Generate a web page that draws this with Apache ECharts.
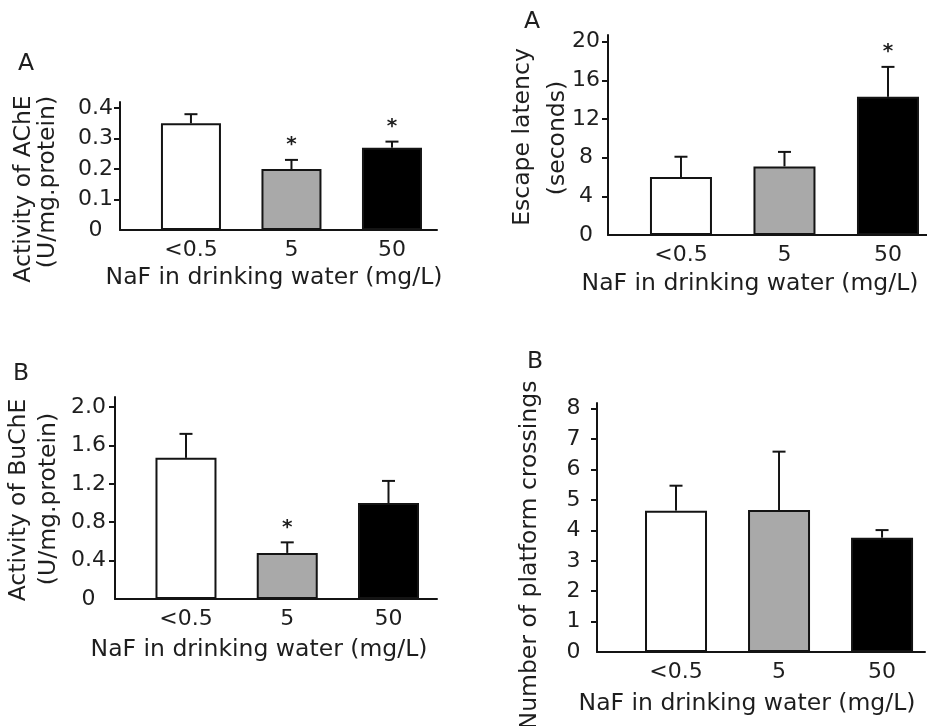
<!DOCTYPE html>
<html>
<head>
<meta charset="utf-8">
<script src="https://cdn.jsdelivr.net/npm/echarts@6/dist/echarts.min.js"></script>
<style>
html,body{margin:0;padding:0;background:#fff;}
#chart{width:927px;height:726px;}
</style>
</head>
<body>
<div id="chart"></div>
<script>
// ---- data ----
const categories = ['<0.5', '5', '50'];
const xTitle = 'NaF in drinking water (mg/L)';

const acheMean = [0.35, 0.20, 0.27];
const acheUpper = [0.38, 0.23, 0.29];
const acheSig = ['', '*', '*'];
const acheTicks = [0, 0.1, 0.2, 0.3, 0.4];
const acheTickLabels = ['0', '0.1', '0.2', '0.3', '0.4'];

const escapeMean = [6.0, 7.1, 14.3];
const escapeUpper = [8.1, 8.6, 17.4];
const escapeSig = ['', '', '*'];
const escapeTicks = [0, 4, 8, 12, 16, 20];
const escapeTickLabels = ['0', '4', '8', '12', '16', '20'];

const bucheMean = [1.47, 0.48, 1.00];
const bucheUpper = [1.72, 0.59, 1.23];
const bucheSig = ['', '*', ''];
const bucheTicks = [0, 0.4, 0.8, 1.2, 1.6, 2.0];
const bucheTickLabels = ['0', '0.4', '0.8', '1.2', '1.6', '2.0'];

const crossMean = [4.65, 4.67, 3.76];
const crossUpper = [5.47, 6.59, 4.01];
const crossSig = ['', '', ''];
const crossTicks = [0, 1, 2, 3, 4, 5, 6, 7, 8];
const crossTickLabels = ['0', '1', '2', '3', '4', '5', '6', '7', '8'];

// ---- styles ----
const FONT = 'DejaVu Sans';
const TXT = '#1e1e1e';
const LINE = '#141414';
const fills = ['#ffffff', '#a9a9a9', '#000000'];

const panels = [
  { mean: acheMean, upper: acheUpper, sig: acheSig, ticks: acheTicks, labels: acheTickLabels,
    grid: {left: 120, top: 102, width: 317, height: 128}, ymax: 0.42, xmin: -0.706, xmax: 2.448,
    barW: 60, labMargin: 24.5 },
  { mean: escapeMean, upper: escapeUpper, sig: escapeSig, ticks: escapeTicks, labels: escapeTickLabels,
    grid: {left: 608, top: 35, width: 319, height: 200}, ymax: 20.7, xmin: -0.705, xmax: 2.377,
    barW: 62, labMargin: 22 },
  { mean: bucheMean, upper: bucheUpper, sig: bucheSig, ticks: bucheTicks, labels: bucheTickLabels,
    grid: {left: 115, top: 397, width: 322, height: 202}, ymax: 2.104, xmin: -0.701, xmax: 2.479,
    barW: 61, labMargin: 26.5 },
  { mean: crossMean, upper: crossUpper, sig: crossSig, ticks: crossTicks, labels: crossTickLabels,
    grid: {left: 597, top: 403, width: 328, height: 249}, ymax: 8.19, xmin: -0.767, xmax: 2.417,
    barW: 62, labMargin: 23.5 }
];

const grid = [], xAxis = [], yAxis = [], series = [];
panels.forEach((p, i) => {
  grid.push(Object.assign({containLabel: false}, p.grid));
  xAxis.push({
    type: 'value', gridIndex: i, min: p.xmin, max: p.xmax,
    axisLine: {show: true, onZero: false, lineStyle: {color: LINE, width: 2}},
    axisTick: {show: false},
    splitLine: {show: false},
    axisLabel: {
      customValues: [0, 1, 2],
      formatter: v => categories[Math.round(v)],
      margin: 9, color: TXT, fontFamily: FONT, fontSize: 22
    }
  });
  yAxis.push({
    type: 'value', gridIndex: i, min: 0, max: p.ymax,
    axisLine: {show: true, onZero: false, lineStyle: {color: LINE, width: 2}},
    axisTick: {show: true, customValues: p.ticks.slice(1), length: 6, lineStyle: {color: LINE, width: 2}},
    splitLine: {show: false},
    axisLabel: {
      customValues: p.ticks,
      formatter: v => { const k = p.ticks.findIndex(t => Math.abs(t - v) < 1e-9); return k >= 0 ? p.labels[k] : ''; },
      align: 'center', margin: p.labMargin, color: TXT, fontFamily: FONT, fontSize: 22
    }
  });
  series.push({
    type: 'bar', xAxisIndex: i, yAxisIndex: i, barWidth: p.barW,
    data: p.mean.map((v, k) => [k, v]),
    itemStyle: {color: params => fills[params.dataIndex], borderColor: LINE, borderWidth: 2},
    silent: true, animation: false
  });
  series.push({
    type: 'custom', xAxisIndex: i, yAxisIndex: i, silent: true, animation: false, z: 5,
    data: p.mean.map((v, k) => [k, v, p.upper[k]]),
    renderItem: (params, api) => {
      const k = params.dataIndex;
      const a = api.coord([api.value(0), api.value(1)]);
      const b = api.coord([api.value(0), api.value(2)]);
      const children = [
        {type: 'line', shape: {x1: a[0], y1: a[1], x2: b[0], y2: b[1]}, style: {stroke: LINE, lineWidth: 2}},
        {type: 'line', shape: {x1: b[0] - 6.5, y1: b[1], x2: b[0] + 6.5, y2: b[1]}, style: {stroke: LINE, lineWidth: 2}}
      ];
      const s = p.sig[k];
      if (s) {
        children.push({type: 'text', style: {text: s, x: b[0], y: b[1] - 15, align: 'center', verticalAlign: 'middle',
          font: 'bold 20px "' + FONT + '"', fill: TXT}});
      }
      return {type: 'group', children: children};
    }
  });
});

function txt(t, x, y, rot) {
  return {type: 'text', x: x, y: y, rotation: rot ? Math.PI / 2 : 0, silent: true,
    style: {text: t, align: 'center', verticalAlign: 'middle', font: '23.5px "' + FONT + '"', fill: TXT}};
}

const graphic = [
  txt('A', 26, 64), txt('Activity of AChE', 24, 189, true), txt('(U/mg.protein)', 48, 182, true), txt(xTitle, 274, 278),
  txt('A', 532, 22), txt('Escape latency', 523, 137, true), txt('(seconds)', 558, 138, true), txt(xTitle, 750, 284),
  txt('B', 21, 374), txt('Activity of BuChE', 19, 500, true), txt('(U/mg.protein)', 49, 499, true), txt(xTitle, 259, 650),
  txt('B', 535, 362), txt('Number of platform crossings', 530, 555, true), txt(xTitle, 747, 704)
];

const chart = echarts.init(document.getElementById('chart'), null, {renderer: 'canvas'});
chart.setOption({animation: false, backgroundColor: '#ffffff', grid, xAxis, yAxis, series, graphic});
</script>
</body>
</html>
